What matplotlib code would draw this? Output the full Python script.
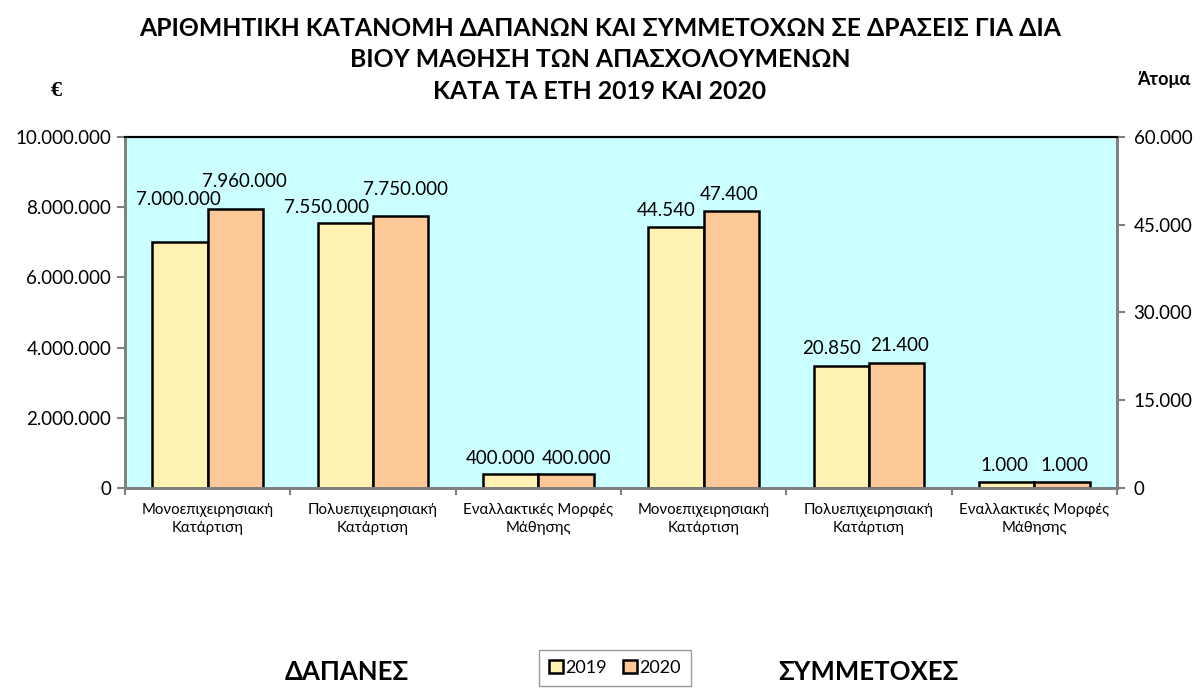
import matplotlib.pyplot as plt
from matplotlib.ticker import FuncFormatter, FixedLocator

plt.rcParams['font.family'] = ['Lato', 'DejaVu Sans']

categories = ['Μονοεπιχειρησιακή\nΚατάρτιση', 'Πολυεπιχειρησιακή\nΚατάρτιση',
              'Εναλλακτικές Μορφές\nΜάθησης']
spend_2019 = [7000000, 7550000, 400000]
spend_2020 = [7960000, 7750000, 400000]
people_2019 = [44540, 20850, 1000]
people_2020 = [47400, 21400, 1000]
years = ['2019', '2020']

# label nudges in pixels (dx, dy), mimicking Excel's placement
nudge_s19 = [(-2, 34), (-19, 7), (-10, 7)]
nudge_s20 = [(9, 19), (5, 18), (11, 7)]
nudge_p19 = [(-10, 8), (-10, 9), (-2, 8)]
nudge_p20 = [(-2, 8), (3, 9), (2, 8)]

c2019 = '#FFF2B2'
c2020 = '#FCC898'

def dots(v, pos=None):
    return f'{v:,.0f}'.replace(',', '.')

fig = plt.figure(figsize=(12, 6.89), dpi=100)
ax = fig.add_axes([0.1042, 0.2917, 0.8266, 0.5095])
ax2 = ax.twinx()
ax.set_facecolor('#CCFFFF')

w = 0.335
n = len(categories)
xs_left = list(range(n))
xs_right = [i + n for i in range(n)]

b1 = ax.bar([x - w / 2 for x in xs_left], spend_2019, w, color=c2019, edgecolor='black', linewidth=1.8, label=years[0])
b2 = ax.bar([x + w / 2 for x in xs_left], spend_2020, w, color=c2020, edgecolor='black', linewidth=1.8, label=years[1])
b3 = ax2.bar([x - w / 2 for x in xs_right], people_2019, w, color=c2019, edgecolor='black', linewidth=1.8)
b4 = ax2.bar([x + w / 2 for x in xs_right], people_2020, w, color=c2020, edgecolor='black', linewidth=1.8)

for bars, a, nudges in [(b1, ax, nudge_s19), (b2, ax, nudge_s20), (b3, ax2, nudge_p19), (b4, ax2, nudge_p20)]:
    for r, (dx, dy) in zip(bars, nudges):
        a.annotate(dots(r.get_height()), (r.get_x() + r.get_width() / 2, r.get_height()),
                   xytext=(dx, dy), textcoords='offset pixels', ha='center', va='bottom',
                   fontsize=13.5)

ax.set_xlim(-0.5, 2 * n - 0.5)
ax.set_ylim(0, 10000000)
ax.set_yticks(range(0, 10000001, 2000000))
ax2.set_ylim(0, 60000)
ax2.set_yticks(range(0, 60001, 15000))
ax.yaxis.set_major_formatter(FuncFormatter(dots))
ax2.yaxis.set_major_formatter(FuncFormatter(dots))

ax.set_xticks(xs_left + xs_right)
ax.set_xticklabels(categories * 2, fontsize=10.8, linespacing=1.35)
ax.tick_params(axis='x', length=0, pad=11)
ax.xaxis.set_minor_locator(FixedLocator([i - 0.5 for i in range(2 * n + 1)]))
ax.tick_params(axis='x', which='minor', length=5, color='#808080', width=1.5)
ax.tick_params(axis='y', labelsize=13.5, color='#808080', width=1.5, length=6, pad=4)
ax2.tick_params(axis='y', labelsize=13.5, color='#808080', width=1.5, length=6, pad=6)

for a in (ax, ax2):
    for s in ('left', 'right', 'bottom'):
        a.spines[s].set_color('#808080')
        a.spines[s].set_linewidth(2)
    a.spines['top'].set_color('black')
    a.spines['top'].set_linewidth(1.5)

fig.text(0.5, 0.913, 'ΑΡΙΘΜΗΤΙΚΗ ΚΑΤΑΝΟΜΗ ΔΑΠΑΝΩΝ ΚΑΙ ΣΥΜΜΕΤΟΧΩΝ ΣΕ ΔΡΑΣΕΙΣ ΓΙΑ ΔΙΑ\n'
         'ΒΙΟΥ ΜΑΘΗΣΗ ΤΩΝ ΑΠΑΣΧΟΛΟΥΜΕΝΩΝ\nΚΑΤΑ ΤΑ ΕΤΗ 2019 ΚΑΙ 2020',
         ha='center', va='center', fontsize=17.8, fontweight='bold', linespacing=1.45)
fig.text(0.047, 0.868, '€', ha='center', va='center', fontsize=16, fontweight='bold', family='Liberation Serif')
fig.text(0.97, 0.884, 'Άτομα', ha='center', va='center', fontsize=13, fontweight='bold')
fig.text(0.289, 0.025, 'ΔΑΠΑΝΕΣ', ha='center', va='center', fontsize=18.5, fontweight='bold')
fig.text(0.724, 0.025, 'ΣΥΜΜΕΤΟΧΕΣ', ha='center', va='center', fontsize=18.5, fontweight='bold')

leg = fig.legend(handles=[b1, b2], labels=years, loc='upper center', bbox_to_anchor=(0.5126, 0.0565),
                 ncol=2, frameon=True, fancybox=False, fontsize=13, handlelength=0.75, handleheight=0.75,
                 handletextpad=0.15, columnspacing=0.9, borderpad=0.55, borderaxespad=0)
leg.get_frame().set_edgecolor('#808080')
leg.get_frame().set_linewidth(1)

fig.savefig('out.png', dpi=100)
